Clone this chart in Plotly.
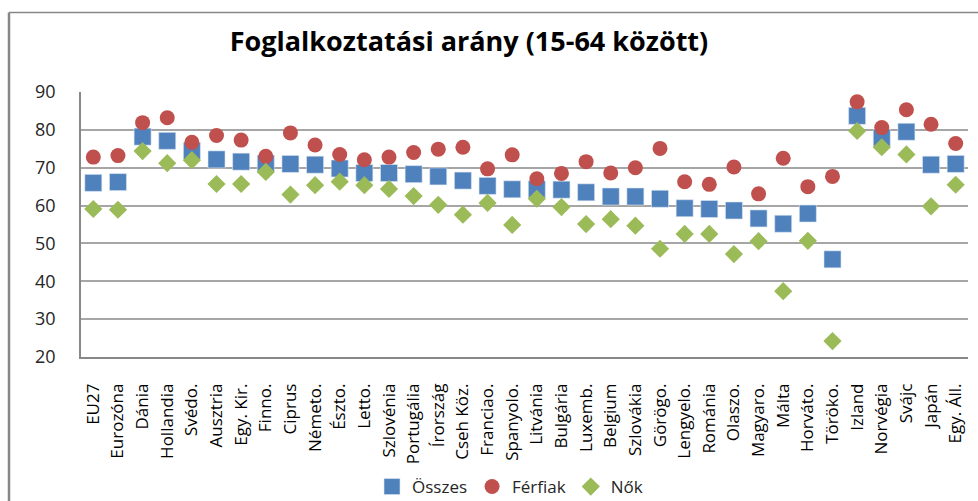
import plotly.graph_objects as go

countries = ["EU27", "Eurozóna", "Dánia", "Hollandia", "Svédo.", "Ausztria", "Egy. Kir.", "Finno.",
             "Ciprus", "Németo.", "Észto.", "Letto.", "Szlovénia", "Portugália", "Írország", "Cseh Köz.",
             "Franciao.", "Spanyolo.", "Litvánia", "Bulgária", "Luxemb.", "Belgium", "Szlovákia", "Görögo.",
             "Lengyelo.", "Románia", "Olaszo.", "Magyaro.", "Málta", "Horváto.", "Töröko.", "Izland",
             "Norvégia", "Svájc", "Japán", "Egy. Áll."]

osszes = [66.0, 66.2, 78.2, 77.1, 74.4, 72.2, 71.6, 71.1, 71.0, 70.8, 69.8, 68.6, 68.6, 68.3, 67.7, 66.6,
          65.2, 64.3, 64.3, 64.2, 63.5, 62.4, 62.4, 61.8, 59.3, 59.1, 58.7, 56.6, 55.2, 57.9, 45.8, 83.7,
          77.9, 79.5, 70.8, 71.0]
ferfiak = [72.8, 73.2, 81.9, 83.2, 76.7, 78.5, 77.3, 73.0, 79.2, 76.0, 73.5, 72.1, 72.8, 74.0, 74.9, 75.4,
           69.7, 73.4, 67.1, 68.5, 71.6, 68.6, 70.0, 75.1, 66.3, 65.6, 70.2, 63.1, 72.5, 65.0, 67.7, 87.4,
           80.6, 85.3, 81.5, 76.4]
nok = [59.1, 58.9, 74.4, 71.2, 72.0, 65.7, 65.7, 68.9, 62.9, 65.4, 66.3, 65.4, 64.4, 62.5, 60.2, 57.6,
       60.7, 54.9, 61.8, 59.6, 55.1, 56.4, 54.7, 48.6, 52.5, 52.5, 47.2, 50.6, 37.4, 50.7, 24.2, 79.7,
       75.4, 73.5, 59.8, 65.5]

y_ticks = [20, 30, 40, 50, 60, 70, 80, 90]

FONT = "Open Sans"
fig = go.Figure()
fig.add_trace(go.Scatter(x=countries, y=osszes, mode="markers", name="Összes",
                         marker=dict(symbol="square", size=17, color="#4F81BD",
                                     line=dict(width=0.6, color="#DCE6F2"))))
fig.add_trace(go.Scatter(x=countries, y=ferfiak, mode="markers", name="Férfiak",
                         marker=dict(symbol="circle", size=15, color="#C0504D",
                                     line=dict(width=0))))
fig.add_trace(go.Scatter(x=countries, y=nok, mode="markers", name="Nők",
                         marker=dict(symbol="diamond", size=14, color="#9BBB59",
                                     line=dict(width=0))))

L, R, T, B = 81, 10, 92, 144
W, H = 978, 501
pw = W - L - R
ph = H - T - B

def px(x):
    return (x - L) / pw

def py(y):
    return (H - B - y) / ph

shapes = [
    dict(type="line", xref="paper", yref="paper", x0=px(9), x1=px(978), y0=py(12.5), y1=py(12.5),
         line=dict(color="#878787", width=1.5)),
    dict(type="line", xref="paper", yref="paper", x0=px(9), x1=px(9), y0=py(12.5), y1=py(501),
         line=dict(color="#878787", width=2.5)),
]

fig.update_layout(
    width=W, height=H,
    margin=dict(l=L, r=R, t=T, b=B, pad=0, autoexpand=False),
    paper_bgcolor="white", plot_bgcolor="white",
    font=dict(family=FONT, color="#1a1a1a"),
    title=dict(text="<b>Foglalkoztatási arány (15-64 között)</b>", x=469 / W, xanchor="center",
               y=1 - 42 / H, yanchor="middle", font=dict(size=27, color="#000000", family=FONT)),
    showlegend=True,
    legend=dict(orientation="h", x=px(510), xanchor="center", y=py(487), yanchor="middle",
                font=dict(size=17, color="#262626"), itemwidth=30, tracegroupgap=0,
                bgcolor="rgba(0,0,0,0)"),
    shapes=shapes,
    xaxis=dict(type="category", range=[-0.5, len(countries) - 0.5], tickangle=-90,
               showgrid=False, showline=True, linecolor="#888888", linewidth=1.5,
               ticks="", tickfont=dict(size=17, color="#000000"), ticklabelstandoff=18,
               zeroline=False, automargin=False),
    yaxis=dict(range=[20, 90], tickvals=y_ticks, showgrid=True, gridcolor="#A6A6A6", gridwidth=1.5,
               showline=True, linecolor="#888888", linewidth=1.5, ticks="",
               tickfont=dict(size=18, color="#262626"), ticklabelstandoff=20, zeroline=False,
               automargin=False),
)

fig.write_html("out.html", config={"displayModeBar": False},
               post_script="document.body.style.margin='0';document.body.style.overflow='hidden';")
